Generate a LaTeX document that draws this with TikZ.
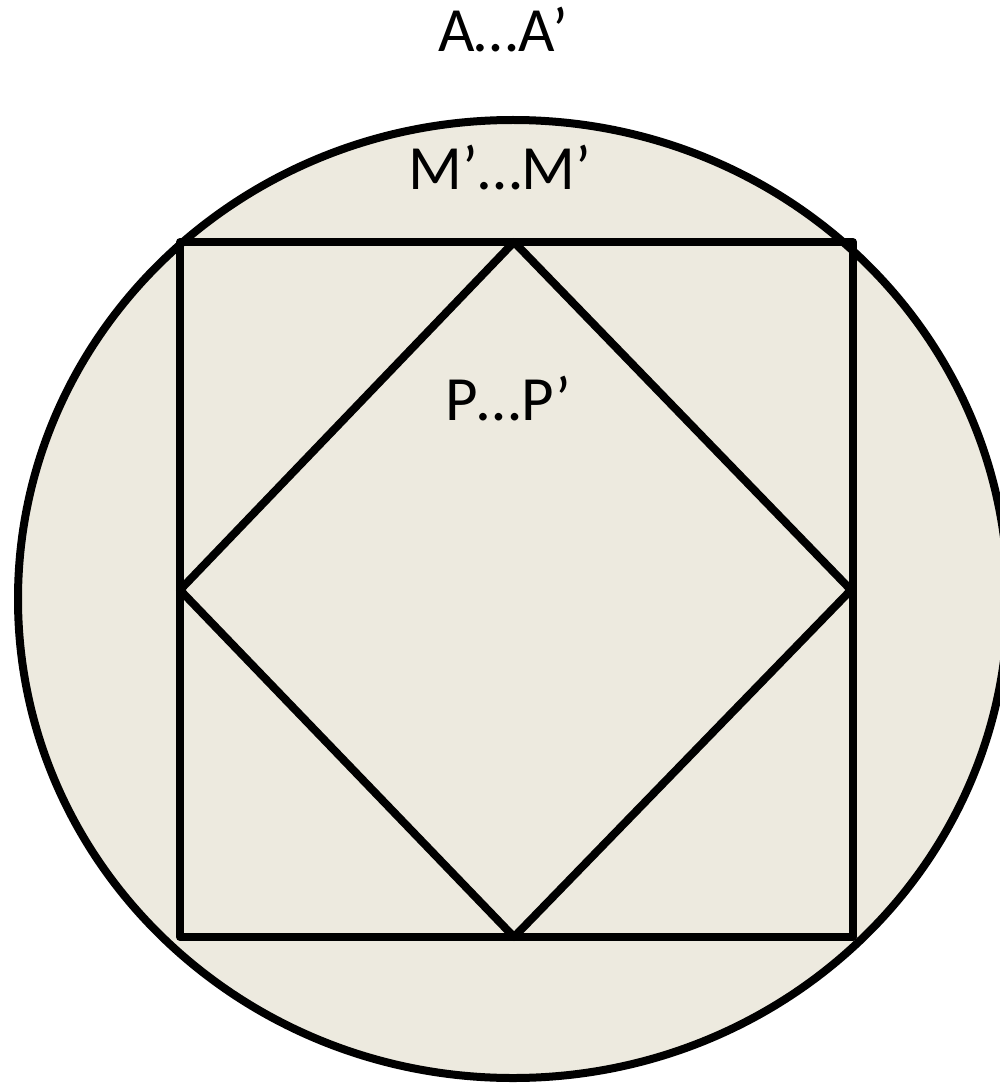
\documentclass[tikz,border=0pt]{standalone}
\usepackage{fontspec}
\setmainfont{Carlito}
\definecolor{bgfill}{RGB}{237,234,223}
\begin{document}
\begin{tikzpicture}[x=1pt,y=-1pt,
  edge/.style={line width=8pt,line join=round,line cap=round},
  lbl/.style={font=\fontsize{63}{72}\selectfont,anchor=base,inner sep=0pt}]
\useasboundingbox (0,0) rectangle (1000,1083);
\draw[line width=8pt,fill=bgfill] (513,599) ellipse [x radius=495, y radius=479];
\coordinate (TL) at (180,242);
\coordinate (TR) at (853,242);
\coordinate (BR) at (853,937);
\coordinate (BL) at (180,937);
\coordinate (DT) at (514,242);
\coordinate (DR) at (851,590);
\coordinate (DB) at (514,937);
\coordinate (DL) at (180,590);
\draw[edge] (TL) -- (TR) -- (BR) -- (BL) -- cycle;
\draw[edge] (DT) -- (DR) -- (DB) -- (DL) -- cycle;
\node[lbl] (aa) at (503,52) {A…A’};
\node[lbl] (mm) at (500,190) {M’…M’};
\node[lbl] (pp) at (508,420) {P…P’};
\end{tikzpicture}
\end{document}
